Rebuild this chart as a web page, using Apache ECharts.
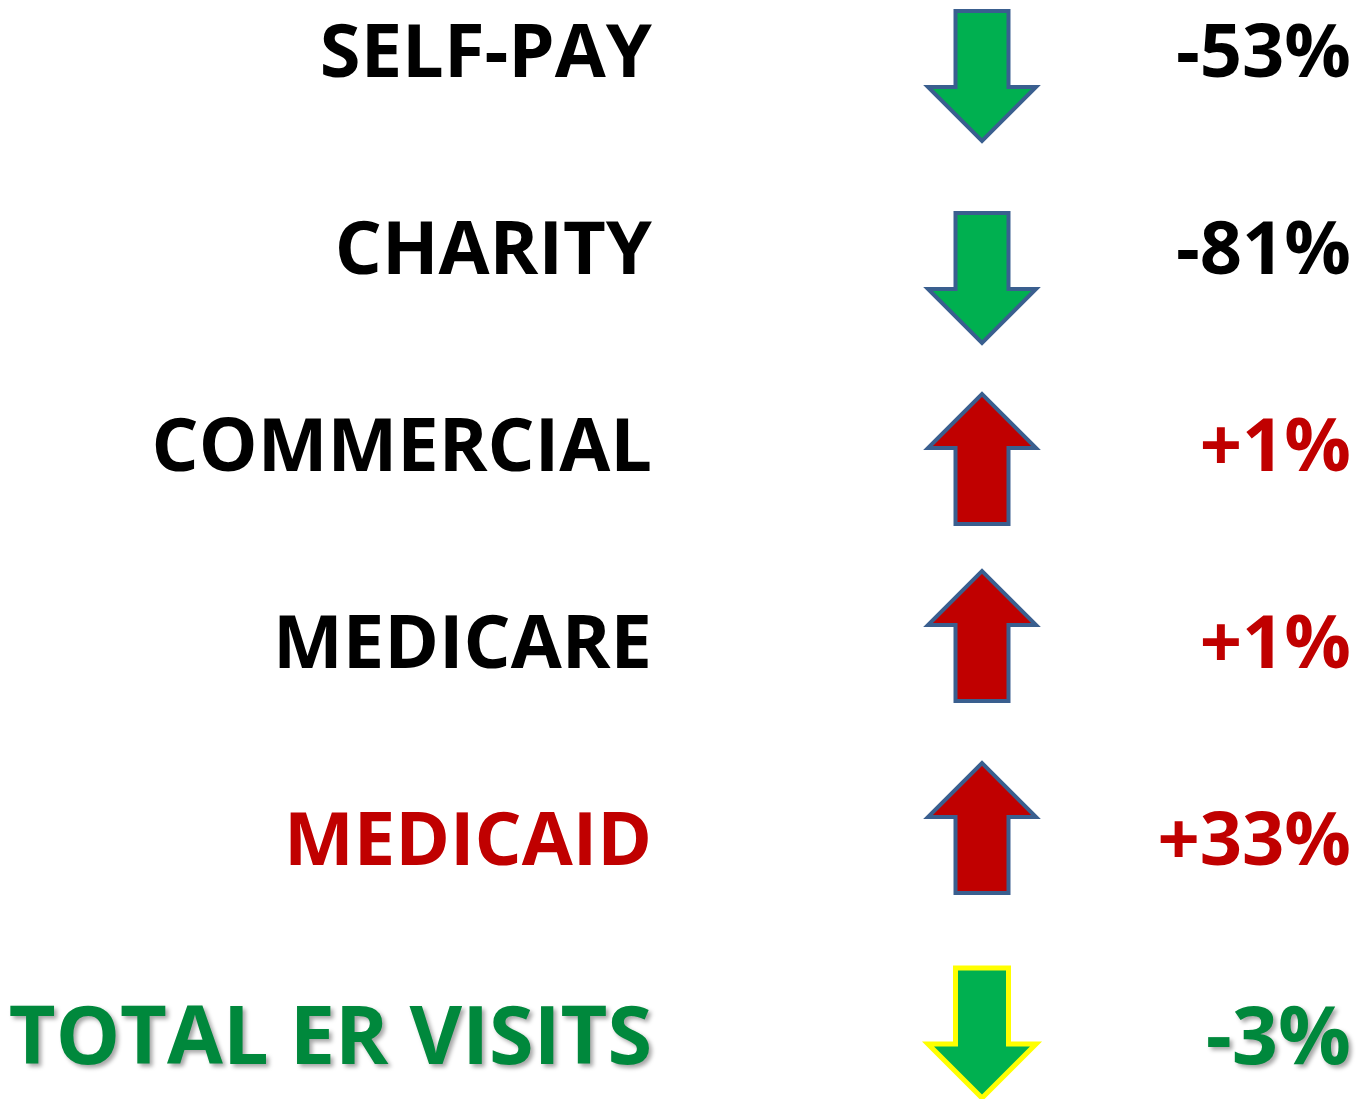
<!DOCTYPE html>
<html>
<head>
<meta charset="utf-8">
<script src="https://cdn.jsdelivr.net/npm/echarts@6/dist/echarts.min.js"></script>
<style>
  html, body { margin: 0; padding: 0; background: #fff; }
  #chart { width: 1356px; height: 1099px; }
</style>
</head>
<body>
<div id="chart"></div>
<script>
// payer categories and their change in ER visits (%)
const categories = ['SELF-PAY', 'CHARITY', 'COMMERCIAL', 'MEDICARE', 'MEDICAID', 'TOTAL ER VISITS']
const changes = [-53, -81, 1, 1, 33, -3]
const changeLabels = ['-53%', '-81%', '+1%', '+1%', '+33%', '-3%']

// style per row
const labelColors = ['#000', '#000', '#000', '#000', '#c00000', '#00883c']
const pctColors = ['#000', '#000', '#c00000', '#c00000', '#c00000', '#00883c']
const arrowNudge = [24, 29, 13, -7, -12, -4]   // px, arrows sit a bit off the text line

const FONT = 'bold 74px "Open Sans", sans-serif'
const FONT_TOTAL = 'bold 81px "Open Sans", sans-serif'

const myChart = echarts.init(document.getElementById('chart'))

function arrowPoints(cx, cy, up) {
  const w = 108, h = 130, sw = 53, head = 54
  const d = up ? -1 : 1
  const top = cy - d * h / 2, tip = cy + d * h / 2, neck = tip - d * head
  return [
    [cx - sw / 2, top], [cx + sw / 2, top], [cx + sw / 2, neck],
    [cx + w / 2, neck], [cx, tip], [cx - w / 2, neck], [cx - sw / 2, neck]
  ]
}

const option = {
  backgroundColor: '#fff',
  animation: false,
  grid: { left: 0, right: 0, top: 52, bottom: 62 },
  xAxis: { type: 'value', min: 0, max: 1356, show: false },
  yAxis: { type: 'category', data: categories, inverse: true, boundaryGap: false, show: false },
  series: [{
    type: 'custom',
    data: changes.map((v, i) => [i, v]),
    encode: { y: 0 },
    renderItem: function (params, api) {
      const i = api.value(0)
      const v = api.value(1)
      const y = api.coord([0, categories[i]])[1]
      const isTotal = i === categories.length - 1
      const font = isTotal ? FONT_TOTAL : FONT
      const shadow = isTotal
        ? { textShadowColor: 'rgba(0,0,0,0.35)', textShadowBlur: 4, textShadowOffsetX: 3, textShadowOffsetY: 3 }
        : {}
      return {
        type: 'group',
        children: [
          {
            type: 'text',
            style: Object.assign({
              x: api.coord([652, 0])[0], y: y + 4,
              text: categories[i], font: font, fill: labelColors[i],
              align: 'right', verticalAlign: 'middle'
            }, shadow)
          },
          {
            type: 'polygon',
            shape: { points: arrowPoints(api.coord([982, 0])[0], y + arrowNudge[i], v > 0) },
            style: {
              fill: v > 0 ? '#c00000' : '#00b050',
              stroke: isTotal ? '#ffff00' : '#3a5f8f',
              lineWidth: isTotal ? 5 : 4
            }
          },
          {
            type: 'text',
            style: Object.assign({
              x: api.coord([1351, 0])[0], y: y + 4,
              text: changeLabels[i], font: font, fill: pctColors[i],
              align: 'right', verticalAlign: 'middle'
            }, shadow)
          }
        ]
      }
    }
  }]
}

myChart.setOption(option)
</script>
</body>
</html>
